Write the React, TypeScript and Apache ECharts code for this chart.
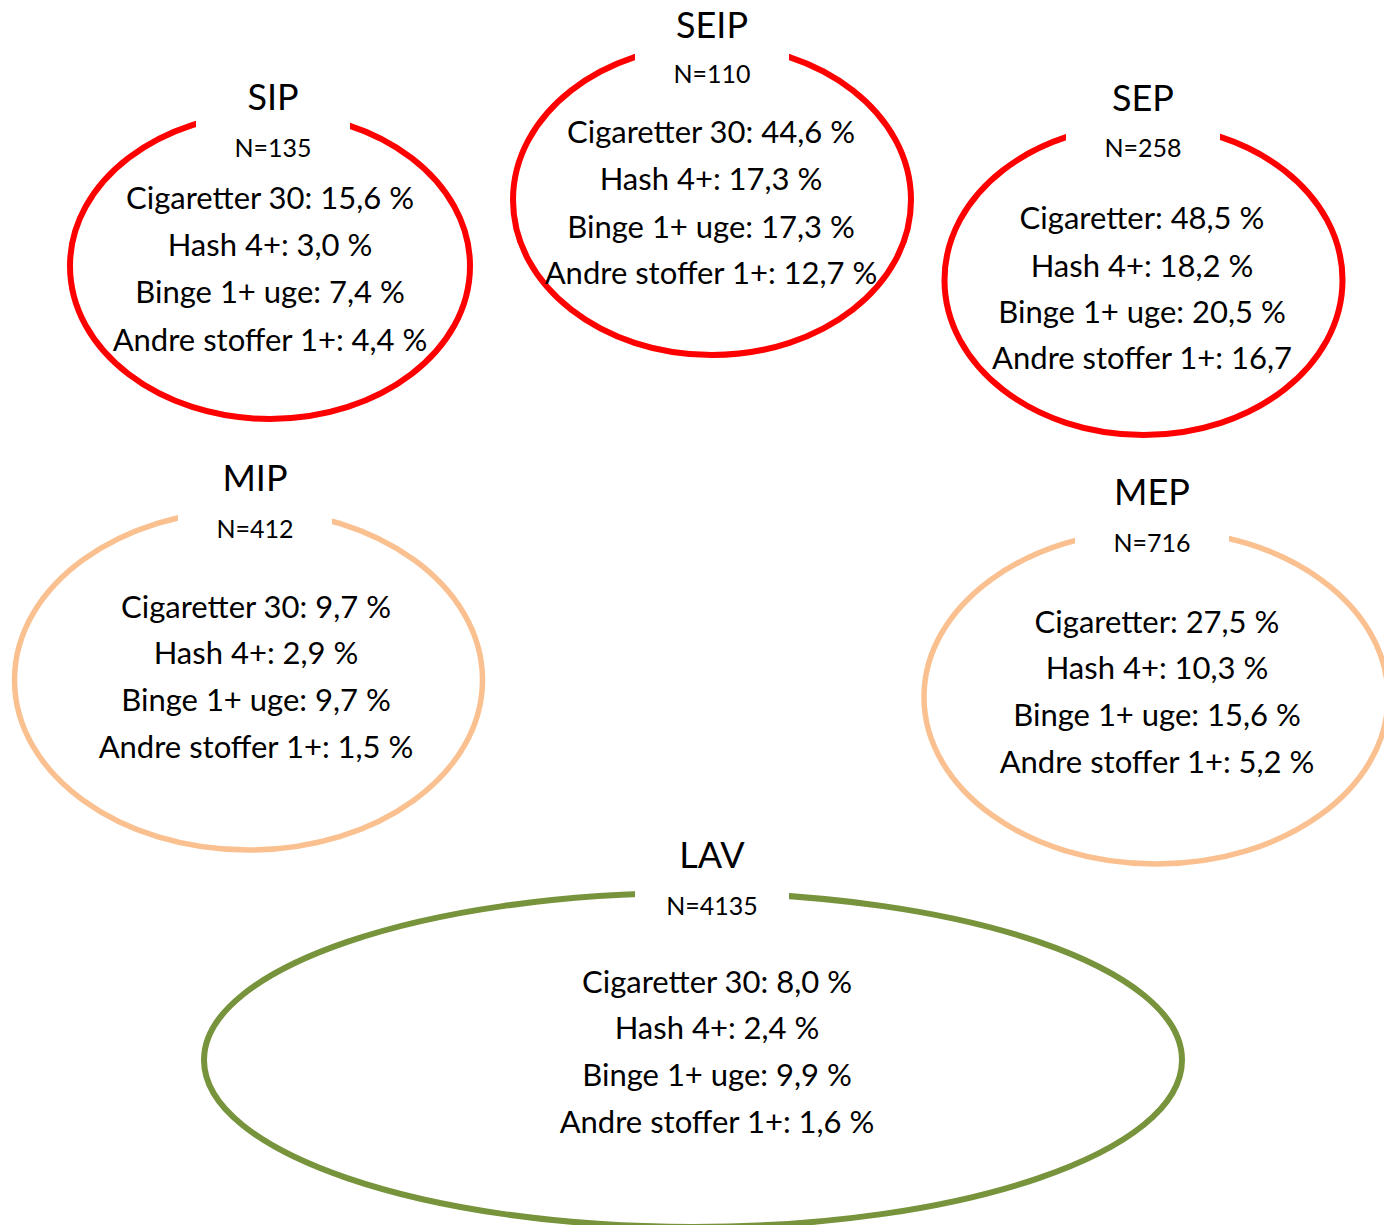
import React, { useEffect, useRef } from "react";
import * as echarts from "echarts";

// ---- data ----
const groups = ["SIP", "SEIP", "SEP", "MIP", "MEP", "LAV"];
const nValues = ["135", "110", "258", "412", "716", "4135"];
const cigLabels = ["Cigaretter 30", "Cigaretter 30", "Cigaretter", "Cigaretter 30", "Cigaretter", "Cigaretter 30"];
const cigValues = ["15,6", "44,6", "48,5", "9,7", "27,5", "8,0"];
const hashValues = ["3,0", "17,3", "18,2", "2,9", "10,3", "2,4"];
const bingeValues = ["7,4", "17,3", "20,5", "9,7", "15,6", "9,9"];
const andreValues = ["4,4", "12,7", "16,7", "1,5", "5,2", "1,6"];
const andreSuffix = [" %", " %", "", " %", " %", " %"];

// ---- layout (positions / styles) ----
const layout = [
  { cx: 270, cy: 266, rx: 200, ry: 153, headX: 273, bodyX: 270, titleY: 97, nY: 148, lineY: [198, 245, 292, 340], color: "#FF0000", lw: 6 },
  { cx: 712, cy: 200, rx: 199, ry: 155, headX: 712, bodyX: 711, titleY: 25, nY: 74, lineY: [132, 179, 227, 273], color: "#FF0000", lw: 6 },
  { cx: 1143.5, cy: 280, rx: 199, ry: 155, headX: 1143, bodyX: 1142, titleY: 98, nY: 148, lineY: [218, 266, 312, 358], color: "#FF0000", lw: 6 },
  { cx: 248.5, cy: 680, rx: 234, ry: 170, headX: 255, bodyX: 256, titleY: 478, nY: 529, lineY: [607, 653, 700, 747], color: "#FAC090", lw: 5.5 },
  { cx: 1156, cy: 697, rx: 232, ry: 167, headX: 1152, bodyX: 1157, titleY: 492, nY: 543, lineY: [622, 668, 715, 762], color: "#FAC090", lw: 5.5 },
  { cx: 693, cy: 1060, rx: 489, ry: 167, headX: 712, bodyX: 717, titleY: 855, nY: 906, lineY: [982, 1028, 1075, 1122], color: "#77933C", lw: 6 },
];

const FONT = "Lato, 'Open Sans', sans-serif";
const TITLE_SIZE = 36;
const N_SIZE = 25;
const BODY_SIZE = 31;
const GAP_W = 154;
const Y_SHIFT = -1;

function textEl(text: string, x: number, y: number, size: number) {
  return {
    type: "text",
    x,
    y: y + Y_SHIFT,
    z: 3,
    style: {
      text,
      fill: "#000000",
      fontSize: size,
      fontFamily: FONT,
      align: "center",
      verticalAlign: "middle",
      textAlign: "center",
      textVerticalAlign: "middle",
    },
  };
}

export default function App() {
  const ref = useRef<HTMLDivElement>(null);
  useEffect(() => {
    if (!ref.current) return;
    const chart = echarts.init(ref.current, null, { renderer: "svg" });
    const ellipses: any[] = [];
    const masks: any[] = [];
    const texts: any[] = [];
    groups.forEach((g, i) => {
      const L = layout[i];
      ellipses.push({
        type: "ellipse",
        z: 1,
        shape: { cx: L.cx, cy: L.cy, rx: L.rx, ry: L.ry },
        style: { fill: "none", stroke: L.color, lineWidth: L.lw },
      });
      const top = L.cy - L.ry;
      masks.push({
        type: "rect",
        z: 2,
        shape: { x: L.headX - GAP_W / 2, y: top - 8, width: GAP_W, height: 30 },
        style: { fill: "#ffffff" },
      });
      texts.push(textEl(g, L.headX, L.titleY, TITLE_SIZE));
      texts.push(textEl("N=" + nValues[i], L.headX, L.nY, N_SIZE));
      const lines = [
        `${cigLabels[i]}: ${cigValues[i]} %`,
        `Hash 4+: ${hashValues[i]} %`,
        `Binge 1+ uge: ${bingeValues[i]} %`,
        `Andre stoffer 1+: ${andreValues[i]}${andreSuffix[i]}`,
      ];
      lines.forEach((t, k) => texts.push(textEl(t, L.bodyX, L.lineY[k], BODY_SIZE)));
    });
    chart.setOption({
      animation: false,
      backgroundColor: "#ffffff",
      graphic: { elements: [...ellipses, ...masks, ...texts] },
    });
    return () => chart.dispose();
  }, []);
  return (
    <div
      ref={ref}
      style={{ position: "absolute", left: 0, top: 0, width: 1384, height: 1225 }}
    />
  );
}
